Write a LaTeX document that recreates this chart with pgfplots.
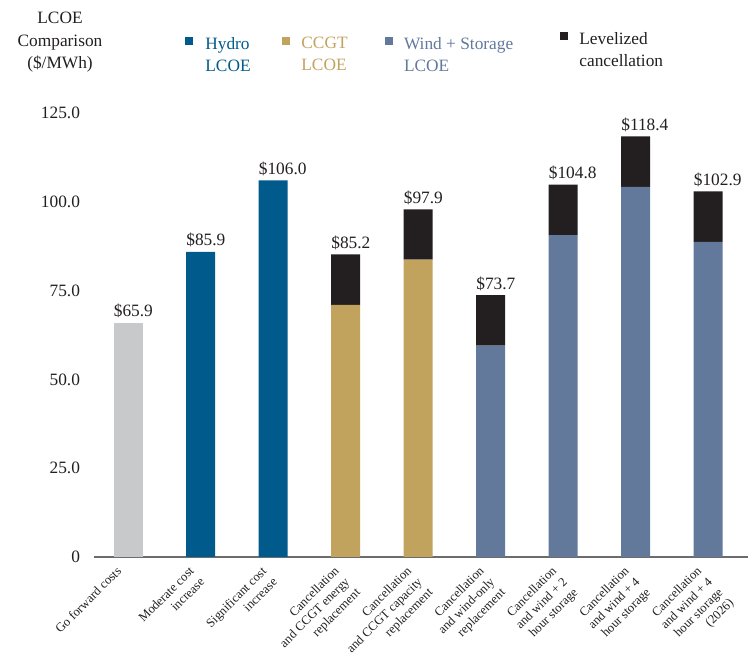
\documentclass[border=0pt]{standalone}
\usepackage{pgfplots}
\pgfplotsset{compat=1.18}
\usepackage{pgfplotstable}
\usepackage{fontspec}
\setmainfont{Liberation Serif}
\definecolor{cgrey}{HTML}{C8C9CB}
\definecolor{chydro}{HTML}{005A8C}
\definecolor{cccgt}{HTML}{C2A35E}
\definecolor{cwind}{HTML}{62799B}
\definecolor{ccancel}{HTML}{231F20}
\definecolor{ctext}{HTML}{231F20}
\pgfplotstableread{
x grey hydro ccgt wind cancel tot
0 65.9 0 0 0 0 65.9
1 0 85.9 0 0 0 85.9
2 0 106.0 0 0 0 106.0
3 0 0 71.0 0 14.2 85.2
4 0 0 83.7 0 14.2 97.9
5 0 0 0 59.5 14.2 73.7
6 0 0 0 90.6 14.2 104.8
7 0 0 0 104.2 14.2 118.4
8 0 0 0 88.7 14.2 102.9
}\data
\pgfplotsset{common/.style={
  at={(0,0)}, anchor=south west,
  scale only axis, width=490.5pt, height=333pt,
  xmin=-0.47, xmax=8.55, ymin=0, ymax=125,
  clip=false}}
\begin{document}
\begin{tikzpicture}
\useasboundingbox (-70.5pt,-74.25pt) rectangle (494.25pt,417.75pt);
\begin{axis}[
  common,
  ybar stacked, bar width=21.75pt,
  axis x line*=bottom, axis y line*=left,
  x axis line style={draw=gray!85!black, line width=0.9pt, -},
  y axis line style={draw=none},
  tick style={draw=none},
  /pgf/number format/assume math mode=true,
  xtick=data,
  xticklabels={
    Go forward costs,
    {Moderate cost\\increase},
    {Significant cost\\increase},
    {Cancellation\\and CCGT energy\\replacement},
    {Cancellation\\and CCGT capacity\\replacement},
    {Cancellation\\and wind-only\\replacement},
    {Cancellation\\and wind + 2\\hour storage},
    {Cancellation\\and wind + 4\\hour storage},
    {Cancellation\\and wind + 4\\hour storage\\(2026)}},
  xticklabel style={rotate=45, anchor=north east, align=right,
    font=\fontsize{9.5}{11.3}\selectfont, text=ctext, xshift=-7.6pt, yshift=5.4pt},
  ytick={0,25,50,75,100,125},
  yticklabels={0,25.0,50.0,75.0,100.0,125.0},
  yticklabel style={font=\fontsize{13}{15}\selectfont, text=ctext, xshift=-7pt},
  every axis plot/.append style={draw=none},
]
\addplot[fill=cgrey] table[x=x,y=grey]{\data};
\addplot[fill=chydro] table[x=x,y=hydro]{\data};
\addplot[fill=cccgt] table[x=x,y=ccgt]{\data};
\addplot[fill=cwind] table[x=x,y=wind]{\data};
\addplot[fill=ccancel] table[x=x,y=cancel]{\data};
\end{axis}
\begin{axis}[common, hide axis]
\addplot[draw=none, mark=none,
  point meta=explicit,
  nodes near coords={\$\pgfmathprintnumber[fixed,zerofill,precision=1,assume math mode=true]{\pgfplotspointmeta}},
  every node near coord/.append style={font=\fontsize{13}{15}\selectfont, text=ctext,
    anchor=south west, inner xsep=0pt, xshift=-10.875pt}
  ] table[x=x,y=tot,meta=tot]{\data};
\end{axis}
% legend / title
\node[align=center, font=\fontsize{13}{17}\selectfont, text=ctext] at (-25.5pt,386pt) {LCOE\\Comparison\\(\$/MWh)};
\fill[chydro] (68.5pt,384pt) rectangle ++(6pt,6pt);
\node[align=left, anchor=west, font=\fontsize{13}{16.5}\selectfont, text=chydro] at (80pt,377pt) {Hydro\\LCOE};
\fill[cccgt] (141pt,384pt) rectangle ++(6pt,6pt);
\node[align=left, anchor=west, font=\fontsize{13}{16.5}\selectfont, text=cccgt] at (152pt,377pt) {CCGT\\LCOE};
\fill[cwind] (218.5pt,384pt) rectangle ++(6pt,6pt);
\node[align=left, anchor=west, font=\fontsize{13}{16.5}\selectfont, text=cwind] at (229pt,377pt) {Wind + Storage\\LCOE};
\fill[ccancel] (349.5pt,387.5pt) rectangle ++(6pt,6pt);
\node[align=left, anchor=west, font=\fontsize{13}{16.5}\selectfont, text=ctext] at (360.5pt,380.5pt) {Levelized\\cancellation};
\end{tikzpicture}
\end{document}
